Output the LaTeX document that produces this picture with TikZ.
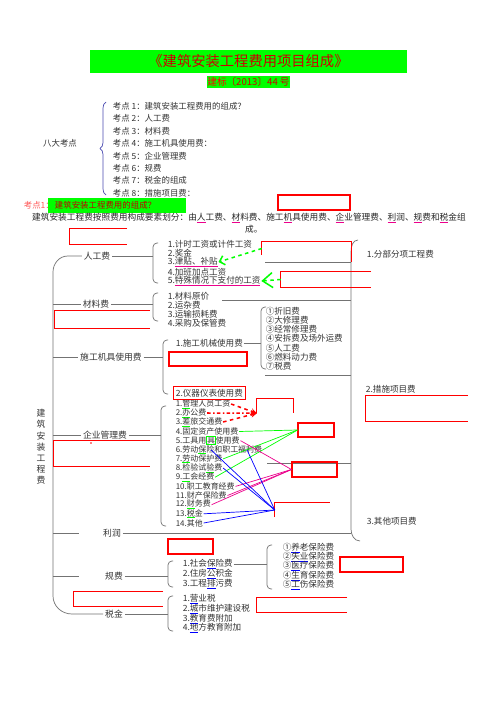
\documentclass[tikz,border=0pt]{standalone}
\usepackage{fontspec}
\setmainfont{Noto Sans CJK SC}
\usetikzlibrary{arrows.meta,fit,decorations.pathreplacing}

\newcommand{\ulc}[2]{{\setbox0\hbox{#2}\rlap{\color{#1}\rule[-2pt]{\wd0}{0.8pt}}\box0}}
\newcommand{\gbox}[1]{{\setlength\fboxsep{0pt}\setlength\fboxrule{0.6pt}\color{green}\fbox{\color{black!80}#1}}}

\begin{document}
\begin{tikzpicture}[
    x=0.03cm, y=-0.03cm,
    titlebox/.style={fill=green, text=red!80!black, font=\fontsize{12.2}{14}\selectfont,
                     minimum width=9.51cm, minimum height=0.69cm, inner sep=0pt},
    subbox/.style={fill=green, text=red!80!black, font=\fontsize{8.2}{10}\selectfont,
                   minimum width=2.49cm, minimum height=0.36cm, inner sep=0pt},
    kdtext/.style={anchor=west, font=\fontsize{7.2}{9}\selectfont, text=black!80, inner sep=0.5pt},
    paratext/.style={anchor=west, font=\fontsize{7.4}{9}\selectfont, text=black!85, inner sep=0pt},
    mmlabel/.style={font=\fontsize{7.5}{9}\selectfont, text=black!80, inner sep=1.5pt},
    mmitem/.style={anchor=west, font=\fontsize{7.3}{9}\selectfont, text=black!80, inner sep=0.5pt},
    mmitemsm/.style={mmitem, font=\fontsize{6.8}{8}\selectfont},
    mmline/.style={draw=black!55, line width=0.6pt},
    mmbracket/.style={mmline, rounded corners=0.12cm},
    redbox/.style={draw=red, line width=0.9pt, inner sep=0pt},
    redspot/.style={inner sep=0pt},
    redside/.style={draw=red, line width=0.9pt},
    greenarrow/.style={draw=green, dashed, line width=1.3pt, -{Straight Barb[length=4pt,width=8pt]}},
    redarrow/.style={draw=red, dashed, line width=1.3pt, -{Stealth[length=5pt,width=5pt]}},
    greenlink/.style={draw=green, line width=0.6pt},
    pinklink/.style={draw=magenta, line width=0.6pt},
    bluelink/.style={draw=blue, line width=0.6pt}
  ]
  \useasboundingbox[fill=white] (0,0) rectangle (496,702);

  % Title
  \node[titlebox] (title) at (248.5,61.5) {《建筑安装工程费用项目组成》};
  \node[subbox] (doc) at (248.5,82) {\textcolor{red}{建标}〔2013〕44 号};

  % Eight points
  \node[kdtext, anchor=center] (kd) at (60,143) {八大考点};
  \draw[decorate, decoration={brace, amplitude=0.18cm}, draw=blue!40!gray, line width=0.6pt]
    (106,195) -- (106,102);
  \node[kdtext] (kd1) at (112,106) {考点 1：建筑安装工程费用的组成？};
  \node[kdtext] (kd2) at (112,118) {考点 2：人工费};
  \node[kdtext] (kd3) at (112,131) {考点 3：材料费};
  \node[kdtext] (kd4) at (112,143) {考点 4：施工机具使用费：};
  \node[kdtext] (kd5) at (112,156) {考点 5：企业管理费};
  \node[kdtext] (kd6) at (112,168) {考点 6：规费};
  \node[kdtext] (kd7) at (112,180) {考点 7：税金的组成};
  \node[kdtext] (kd8) at (112,193) {考点 8：措施项目费：};

  % Point 1
  \node[kdtext, text=red!65] (kp) at (23,205) {考点1：};
  \node[kdtext, fill=green, text=red!75!black, text width=3.74cm, inner xsep=0.2cm,
        minimum height=0.45cm] (kp1) at (48,205.5) {建筑安装工程费用的组成？};
  \node[paratext] (para) at (32,218) {建筑安装工程费按照费用构成要素划分：由\ulc{magenta}{人}工费、\ulc{magenta}{材}料费、施工\ulc{magenta}{机}具使用费、\ulc{magenta}{企}业管理费、\ulc{magenta}{利}润、\ulc{magenta}{规}费和\ulc{magenta}{税}金组};
  \node[paratext] (para2) at (245,229) {成。};

  % Root and branches
  \node[mmlabel, align=center, font=\fontsize{7.5}{9.56}\selectfont] (root) at (41,447)
    {建\\筑\\安\\装\\工\\程\\费};
  \coordinate (trunk) at (53,447);
  \node[mmlabel] (rgf) at (97,256) {人工费};
  \node[mmlabel] (clf) at (96,304) {材料费};
  \node[mmlabel] (sgjj) at (111,357) {施工机具使用费};
  \node[mmlabel] (qygl) at (105,435) {企业管理费};
  \node[mmlabel] (lr) at (112,533) {利润};
  \node[mmlabel] (gf) at (114,576) {规费};
  \node[mmlabel] (sj) at (114,614) {税金};

  % Labour
  \node[mmitem] (rg1) at (167,244) {1.计时工资或计件工资};
  \node[mmitem] (rg2) at (167,253) {2.奖金};
  \node[mmitem] (rg3) at (167,262) {3.\ulc{magenta}{津贴、补贴}};
  \node[mmitem] (rg4) at (167,272) {4.加班加点工资};
  \node[mmitem] (rg5) at (167,281) {5.\ulc{magenta}{特殊情况下支付的工资}};

  % Materials
  \node[mmitem] (cl1) at (167,296) {1.材料原价};
  \node[mmitem] (cl2) at (167,305) {2.运杂费};
  \node[mmitem] (cl3) at (167,314) {3.运输损耗费};
  \node[mmitem] (cl4) at (167,323) {4.采购及保管费};

  % Machinery
  \node[mmitem] (sg1) at (175,343) {1.施工机械使用费};
  \node[mmitem] (sg2) at (175,393) {2.仪器仪表使用费};
  \node[mmitem] (jx1) at (265,311) {①折旧费};
  \node[mmitem] (jx2) at (265,320) {②大修理费};
  \node[mmitem] (jx3) at (265,329) {③经常修理费};
  \node[mmitem] (jx4) at (265,338) {④安拆费及场外运费};
  \node[mmitem] (jx5) at (265,348) {⑤人工费};
  \node[mmitem] (jx6) at (265,357) {⑥燃料动力费};
  \node[mmitem] (jx7) at (265,366) {⑦税费};

  % Management
  \node[mmitemsm] (qy1) at (175,404) {1.\ulc{green}{管}理人员工资};
  \node[mmitemsm] (qy2) at (175,413) {2.\ulc{green}{办}公费};
  \node[mmitemsm] (qy3) at (175,422) {3.\ulc{green}{差}旅交通费};
  \node[mmitemsm] (qy4) at (175,431.5) {4.固定资产使用费};
  \node[mmitemsm] (qy5) at (175,440.6) {5.工具用\gbox{具}使用费};
  \node[mmitemsm] (qy6) at (175,449.8) {6.劳动\ulc{green}{保}险和职工福利费};
  \node[mmitemsm] (qy7) at (175,458.9) {7.\ulc{green}{劳}动保护费};
  \node[mmitemsm] (qy8) at (175,468) {8.检验试\ulc{green}{验}费};
  \node[mmitemsm] (qy9) at (175,477.2) {9.\ulc{green}{工}会经费};
  \node[mmitemsm] (qy10) at (175,486.4) {10.职工教育经费};
  \node[mmitemsm] (qy11) at (175,495.5) {11.财产保险费};
  \node[mmitemsm] (qy12) at (175,504.7) {12.\ulc{green}{财}务费};
  \node[mmitemsm] (qy13) at (175,513.8) {13.\ulc{green}{税}金};
  \node[mmitemsm] (qy14) at (175,523) {14.其他};

  % Fees
  \node[mmitem] (gf1) at (182,564) {1.社会\ulc{blue}{保}险费};
  \node[mmitem] (gf2) at (182,574) {2.住房\ulc{blue}{公}积金};
  \node[mmitem] (gf3) at (182,584) {3.工程\ulc{blue}{排}污费};
  \node[mmitem] (bx1) at (282,548) {①\ulc{blue}{养}老保险费};
  \node[mmitem] (bx2) at (282,557) {②\ulc{blue}{失业}保险费};
  \node[mmitem] (bx3) at (282,566) {③\ulc{blue}{医}疗保险费};
  \node[mmitem] (bx4) at (282,576) {④\ulc{blue}{生}育保险费};
  \node[mmitem] (bx5) at (282,585) {⑤\ulc{blue}{工}伤保险费};

  % Taxes
  \node[mmitem] (sj1) at (182,599) {1.\ulc{blue}{营}业税};
  \node[mmitem] (sj2) at (182,609) {2.\ulc{blue}{城}市维护建设税};
  \node[mmitem] (sj3) at (182,619) {3.\ulc{blue}{教}育费附加};
  \node[mmitem] (sj4) at (182,628) {4.\ulc{blue}{地}方教育附加};

  % Right side
  \node[mmitem] (fb1) at (366,254) {1.分部分项工程费};
  \node[mmitem] (fb2) at (365,389) {2.措施项目费};
  \node[mmitem] (fb3) at (366,521) {3.其他项目费};

  % Brackets
  \draw[mmbracket] (158,243) -- (153,243) -- (153,283) -- (158,283);
  \draw[mmbracket] (158,293) -- (153,293) -- (153,321) -- (158,321);
  \draw[mmbracket] (168,340) -- (163,340) -- (163,394) -- (168,394);
  \draw[mmbracket] (166,406) -- (161,406) -- (161,526) -- (166,526);
  \draw[mmbracket] (173,561) -- (168,561) -- (168,587) -- (173,587);
  \draw[mmbracket] (173,596) -- (168,596) -- (168,631) -- (173,631);
  \draw[mmbracket] (266,307) -- (261,307) -- (261,369) -- (266,369);
  \draw[mmbracket] (272,545) -- (267,545) -- (267,589) -- (272,589);
  \draw[mmline] (358,240) to[out=180,in=90] (351,252) -- (351,529) to[out=-90,in=180] (360,541);
  \coordinate (rgb) at (153,256);
  \coordinate (clb) at (153,304);
  \coordinate (sgb) at (163,357);
  \coordinate (qyb) at (161,435);
  \coordinate (gfb) at (168,576);
  \coordinate (sjb) at (168,614);
  \coordinate (jxb) at (261,343);
  \coordinate (bxb) at (267,563);
  \coordinate (bigb) at (351,400);

  % Trunk and branch lines
  \draw[mmline] (rgf.west) -- ++(-14,0) to[out=180,in=90] (53,272) -- (53,596)
    to[out=-90,in=180] (72,614) -- (sj.west);
  \draw[mmline] (rgf.east) -- (rgb);
  \draw[mmline] (clf.west -| trunk) -- (clf.west);
  \draw[mmline] (clf.east) -- (clb);
  \draw[mmline] (sgjj.west -| trunk) -- (sgjj.west);
  \draw[mmline] (sgjj.east) -- (sgb);
  \draw[mmline] (qygl.west -| trunk) -- (qygl.west);
  \draw[mmline] (qygl.east) -- (qyb);
  \coordinate (lrcut) at (79,533);
  \draw[mmline] (lrcut -| trunk) -- (lrcut);
  \draw[mmline] (lr.east) -- (lr.east -| bigb);
  \coordinate (gfcut) at (79,576);
  \draw[mmline] (gfcut -| trunk) -- (gfcut);
  \draw[mmline] (gf.east) -- (gfb);
  \draw[mmline] (sj.east) -- (sjb);
  \draw[mmline] (sg1.east) -- (sg1.east -| jxb);
  \draw[mmline] (gf1.east) -- (gf1.east -| bxb);

  % Lines to the right bracket
  \coordinate (rgend) at (265,262);
  \coordinate (clend) at (222,300);
  \coordinate (sgend) at (265,375);
  \coordinate (qyend) at (267,463);
  \draw[mmline] (rgend) -- (rgend -| bigb);
  \draw[mmline] (clend) -- (clend -| bigb);
  \draw[mmline] (sgend) -- (sgend -| bigb);
  \draw[mmline] (qyend) -- (qyend -| bigb);

  % Red boxes
  \node[redbox, fit={(278,195) (350,210)}] (r1) {};
  \node[redspot, fit={(70,229) (127,244)}] (r2) {};
  \draw[redside] (r2.north east) -- (r2.north west) -- (r2.south west) -- (r2.south east);
  \node[redspot, fit={(262,242) (351,255)}] (r3) {};
  \draw[redside] (r3.south west) -- (r3.north west) -- (r3.north east) -- (r3.north east |- rgend);
  \node[redspot, fit={(281,272) (371,287)}] (r4) {};
  \draw[redside] (r4.north east) -- (r4.north west) -- (r4.south west) -- (r4.south east);
  \node[redspot, fit={(55,311) (150,328)}] (r5) {};
  \draw[redside] (r5.north east) -- (r5.north west) -- (r5.south west) -- (r5.south east);
  \node[redbox, fit={(169,352) (247,366)}] (r6) {};
  \node[redbox, fit=(sg2), inner sep=1.5pt] (r7) {};
  \node[redspot, fit={(366,396) (468,421)}] (r8) {};
  \draw[redside] (r8.north east) -- (r8.north west) -- (r8.south west) -- (r8.south east);
  \node[redspot, fit={(257,399) (293,413)}] (r9) {};
  \draw[redside] (r9.south west) -- (r9.north west) -- (r9.north east) -- (r9.south east);
  \node[redbox, fit={(298,423) (334,437)}] (r10) {};
  \node[redspot, fit={(54,441) (150,466)}] (r11) {};
  \draw[redside] (r11.north east) -- (r11.north west) -- (r11.south west) -- (r11.south east);
  \fill[red] (91,443) circle[radius=0.7pt];
  \node[redbox, fit={(292,462) (337,477)}] (r12) {};
  \node[redspot, fit={(275,503) (330,517)}] (r13) {};
  \draw[redside] (r13.south west) -- (r13.north west) -- (r13.north east);
  \node[redbox, fit={(168,539) (213,554)}] (r14) {};
  \node[redbox, fit={(340,557) (403,572)}] (r15) {};
  \node[redspot, fit={(74,592) (163,606)}] (r16) {};
  \draw[redside] (r16.north east) -- (r16.north west) -- (r16.south west) -- (r16.south east);
  \node[redspot, fit={(257,598) (347,612)}] (r17) {};
  \draw[redside] (r17.north east) -- (r17.north west) -- (r17.south west) -- (r17.south east);

  % Marks
  \draw[greenarrow] (r3.west) -- (rg3.east);
  \draw[greenarrow, -{Straight Barb[length=0.3cm,width=0.45cm]}] (r4.west) -- (rg5.east);
  \draw[redarrow] (qy1.east) -- (r9.south west);
  \draw[redarrow, dash dot] (qy2.east) -- (r9.south west);
  \draw[redarrow] (qy3.east) -- (r9.south west);
  \draw[greenlink] (qy4.east) -- (r10.west);
  \draw[greenlink] (qy7.east) -- (r10.west);
  \draw[greenlink] (qy9.east) -- (r10.west);
  \draw[pinklink] (qy5.east) -- (r12.west);
  \draw[pinklink] (qy10.east) -- (r12.west);
  \draw[pinklink] (qy11.east) -- (r12.west);
  \draw[pinklink] (qy12.east) -- (r12.west);
  \draw[bluelink] ([xshift=1.08cm]qy6.west) -- (r13.west);
  \draw[bluelink] ([xshift=2.16cm]qy6.west) -- (r13.west);
  \draw[bluelink] (qy8.east) -- (r13.west);
  \draw[bluelink] (qy13.east) -- (r13.west);
  \draw[bluelink] (qy14.east) -- (r13.west);
\end{tikzpicture}
\end{document}
